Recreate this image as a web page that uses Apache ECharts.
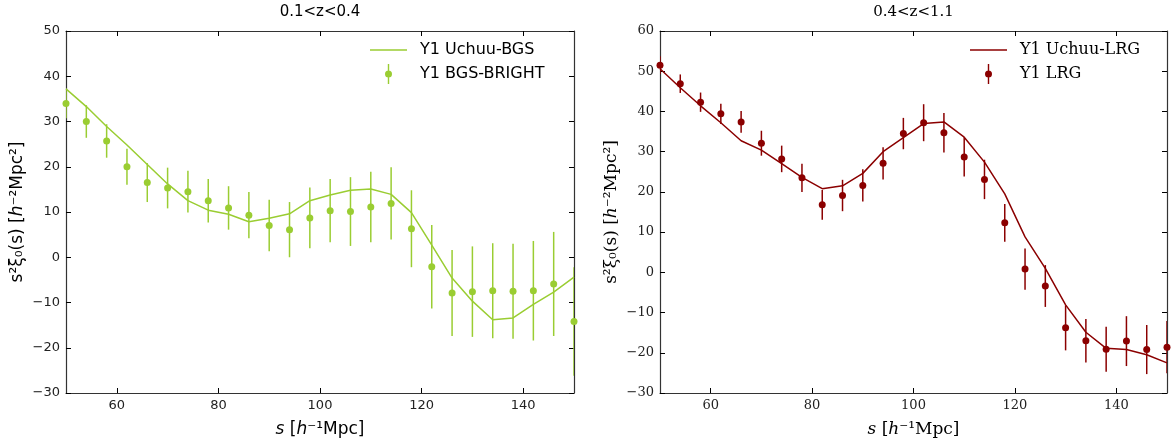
<!DOCTYPE html>
<html>
<head>
<meta charset="utf-8">
<script src="https://cdn.jsdelivr.net/npm/echarts@6/dist/echarts.min.js"></script>
<style>
  html, body { margin: 0; padding: 0; background: #fff; }
  #chart { width: 1173px; height: 443px; }
</style>
</head>
<body>
<div id="chart"></div>
<script>
// separation bins, h^-1 Mpc
const sBins = [50, 54, 58, 62, 66, 70, 74, 78, 82, 86, 90, 94, 98, 102, 106, 110, 114, 118, 122, 126, 130, 134, 138, 142, 146, 150];
const xTicks = [60, 80, 100, 120, 140];

// 0.1<z<0.4
const bgsModel = [37.2, 33.3, 28.9, 24.8, 20.5, 16.2, 12.5, 10.4, 9.5, 7.85, 8.6, 9.6, 12.5, 13.75, 14.8, 15.1, 13.9, 9.85, 2.7, -4.6, -9.7, -13.8, -13.4, -10.4, -7.7, -4.4];
const bgsData = [34.0, 30.0, 25.7, 20.0, 16.5, 15.3, 14.5, 12.5, 10.9, 9.3, 7.0, 6.1, 8.7, 10.3, 10.1, 11.1, 11.9, 6.3, -2.1, -7.9, -7.6, -7.4, -7.5, -7.4, -5.9, -14.2];
const bgsErr = [3.3, 3.6, 3.7, 4.0, 4.3, 4.5, 4.6, 4.8, 4.8, 5.1, 5.7, 6.1, 6.7, 7.0, 7.6, 7.8, 8.0, 8.5, 9.2, 9.5, 10.0, 10.5, 10.5, 11.0, 11.5, 12.0];

// 0.4<z<1.1
const lrgModel = [50.6, 45.9, 41.4, 37.2, 32.7, 30.4, 27.0, 23.6, 20.8, 21.5, 24.6, 30.0, 33.5, 37.0, 37.4, 33.6, 27.4, 19.5, 8.8, 1.0, -8.1, -14.9, -18.9, -19.2, -20.5, -22.5];
const lrgData = [51.5, 46.9, 42.3, 39.4, 37.4, 32.1, 28.2, 23.5, 16.8, 19.1, 21.6, 27.1, 34.5, 37.2, 34.7, 28.7, 23.1, 12.3, 0.8, -3.4, -13.8, -17.0, -19.1, -17.1, -19.2, -18.6];
const lrgErr = [2.2, 2.3, 2.4, 2.5, 2.7, 3.1, 3.3, 3.5, 3.7, 3.9, 4.0, 4.0, 3.9, 4.6, 4.9, 4.9, 4.9, 4.7, 5.1, 5.2, 5.6, 5.4, 5.6, 6.2, 6.1, 6.5];

const green = '#9acd32';
const red = '#8b0000';
const sans = 'DejaVu Sans';
const serif = 'DejaVu Serif';
// errorbar marker for the legend: a bar plus a filled dot
const errIcon = 'path://M3,0 H4.4 V20 H3 Z M0.2,10 A3.5,3.5 0 1 1 7.2,10 A3.5,3.5 0 1 1 0.2,10 Z';
const lineIcon = 'path://M0,0 H37 V1.5 H0 Z';

function pairs(ys) { return sBins.map((x, i) => [x, ys[i]]); }
function bars(ys, es) { return sBins.map((x, i) => [x, ys[i] - es[i], ys[i] + es[i]]); }
function minus(v) { return v < 0 ? '\u2212' + Math.abs(v) : String(v); }

function errSeries(name, idx, ys, es, color) {
    return {
        name: name, type: 'custom', xAxisIndex: idx * 2, yAxisIndex: idx * 2,
        clip: true, z: 2, itemStyle: { color: color },
        renderItem: function (params, api) {
            const a = api.coord([api.value(0), api.value(1)]);
            const b = api.coord([api.value(0), api.value(2)]);
            return { type: 'line', shape: { x1: a[0], y1: a[1], x2: b[0], y2: b[1] },
                     style: { stroke: color, lineWidth: 1.5 } };
        },
        data: bars(ys, es)
    };
}

function axisLabelName(font) {
    return {
        fontFamily: font, fontSize: 17, color: '#000',
        rich: { i: { fontFamily: font, fontSize: 17, fontStyle: 'italic', color: '#000' } }
    };
}

const lineStyleAxis = { color: '#333', width: 1.2 };

function xAxes(grid, font, title) {
    return [{
        gridIndex: grid, type: 'value', min: 50, max: 150, position: 'bottom',
        axisLine: { onZero: false, lineStyle: lineStyleAxis },
        axisTick: { inside: true, length: 5, customValues: xTicks, lineStyle: { color: '#000' } },
        axisLabel: { customValues: xTicks, fontFamily: font, fontSize: 13, color: '#222', margin: 6 },
        splitLine: { show: false },
        name: '{i|s} [{i|h}\u207B\u00B9Mpc]', nameLocation: 'middle', nameGap: 28,
        nameTextStyle: axisLabelName(font)
    }, {
        gridIndex: grid, type: 'value', min: 50, max: 150, position: 'top',
        axisLine: { onZero: false, lineStyle: lineStyleAxis },
        axisTick: { inside: true, length: 5, customValues: xTicks, lineStyle: { color: '#000' } },
        axisLabel: { show: false },
        splitLine: { show: false },
        name: title, nameLocation: 'middle', nameGap: 11,
        nameTextStyle: { fontFamily: font, fontSize: 15, color: '#000' }
    }];
}

function yAxes(grid, font, max) {
    return [{
        gridIndex: grid, type: 'value', min: -30, max: max, interval: 10, position: 'left',
        axisLine: { show: true, onZero: false, lineStyle: lineStyleAxis },
        axisTick: { show: true, inside: true, length: 5, lineStyle: { color: '#000' } },
        axisLabel: { fontFamily: font, fontSize: 13, color: '#222', margin: 6, formatter: minus },
        splitLine: { show: false },
        name: 's\u00B2\u03BE\u2080(s) [{i|h}\u207B\u00B2Mpc\u00B2]', nameLocation: 'middle', nameGap: 40,
        nameTextStyle: axisLabelName(font)
    }, {
        gridIndex: grid, type: 'value', min: -30, max: max, interval: 10, position: 'right',
        axisLine: { show: true, onZero: false, lineStyle: lineStyleAxis },
        axisTick: { show: true, inside: true, length: 5, lineStyle: { color: '#000' } },
        axisLabel: { show: false },
        splitLine: { show: false }
    }];
}

option = {
    animation: false,
    backgroundColor: '#fff',
    grid: [
        { left: 66, top: 25, width: 508, height: 375 },
        { left: 660, top: 25, width: 507, height: 375 }
    ],
    legend: [{
        orient: 'vertical', left: 365, top: 37, itemWidth: 37, itemHeight: 20, itemGap: 6,
        textStyle: { fontFamily: sans, fontSize: 16, color: '#000', padding: [0, 0, 0, 8] },
        data: [{ name: 'Y1 Uchuu-BGS', icon: lineIcon }, { name: 'Y1 BGS-BRIGHT', icon: errIcon }]
    }, {
        orient: 'vertical', left: 965, top: 37, itemWidth: 37, itemHeight: 20, itemGap: 6,
        textStyle: { fontFamily: serif, fontSize: 16, color: '#000', padding: [0, 0, 0, 8] },
        data: [{ name: 'Y1 Uchuu-LRG', icon: lineIcon }, { name: 'Y1 LRG', icon: errIcon }]
    }],
    xAxis: xAxes(0, sans, '0.1<z<0.4').concat(xAxes(1, serif, '0.4<z<1.1')),
    yAxis: yAxes(0, sans, 50).concat(yAxes(1, serif, 60)),
    series: [
        {
            name: 'Y1 Uchuu-BGS', type: 'line', xAxisIndex: 0, yAxisIndex: 0,
            symbol: 'none', lineStyle: { color: green, width: 1.5 }, itemStyle: { color: green },
            data: pairs(bgsModel), z: 3
        },
        errSeries('Y1 BGS-BRIGHT', 0, bgsData, bgsErr, green),
        {
            name: 'Y1 BGS-BRIGHT', type: 'scatter', xAxisIndex: 0, yAxisIndex: 0,
            symbolSize: 7, itemStyle: { color: green, opacity: 1 }, clip: true,
            data: pairs(bgsData), z: 4
        },
        {
            name: 'Y1 Uchuu-LRG', type: 'line', xAxisIndex: 2, yAxisIndex: 2,
            symbol: 'none', lineStyle: { color: red, width: 1.5 }, itemStyle: { color: red },
            data: pairs(lrgModel), z: 3
        },
        errSeries('Y1 LRG', 1, lrgData, lrgErr, red),
        {
            name: 'Y1 LRG', type: 'scatter', xAxisIndex: 2, yAxisIndex: 2,
            symbolSize: 7, itemStyle: { color: red, opacity: 1 }, clip: true,
            data: pairs(lrgData), z: 4
        }
    ]
};

let myChart = echarts.init(document.getElementById('chart'));
myChart.setOption(option);
</script>
</body>
</html>
